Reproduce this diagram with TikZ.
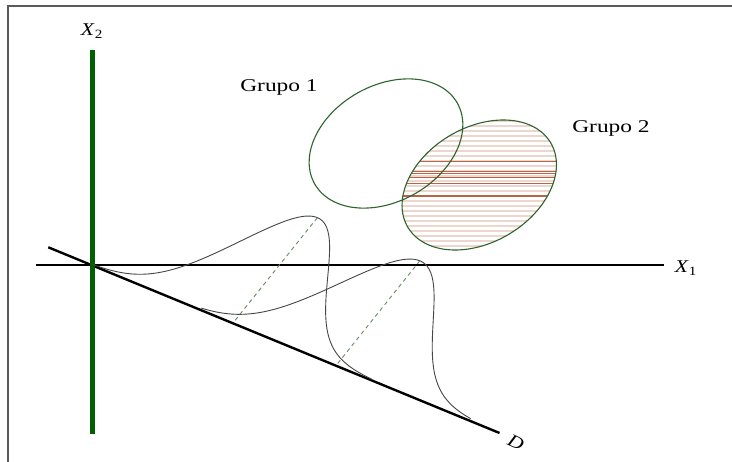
\documentclass[tikz,border=0pt]{standalone}
\usepackage{fontspec}
\setmainfont{Liberation Serif}
\begin{document}
\begin{tikzpicture}[x=1pt,y=-1pt,
  frameline/.style={draw={rgb,255:red,90;green,90;blue,90},line width=2pt},
  axisline/.style={draw=black,line width=2pt},
  greenaxis/.style={draw={rgb,255:red,0;green,95;blue,0},line width=4.5pt},
  dline/.style={draw=black,line width=2.4pt},
  density/.style={draw={rgb,255:red,70;green,70;blue,70},line width=0.9pt},
  dashline/.style={draw={rgb,255:red,100;green,140;blue,100},line width=0.9pt,dash pattern=on 4pt off 3.5pt},
  ell/.style={draw={rgb,255:red,45;green,100;blue,45},line width=1.1pt},
  lightrow/.style={draw={rgb,255:red,236;green,214;blue,205},line width=2.8pt},
  darkrow/.style={draw={rgb,255:red,185;green,100;blue,70},line width=0.9pt},
  lbl/.style={inner sep=0pt,font=\fontsize{18}{20}\selectfont}]
\useasboundingbox (0,0) rectangle (732,462);
\fill[white] (0,0) rectangle (732,462);
% frame
\coordinate (fl) at (8.3,462);
\coordinate (ftl) at (8.3,6.5);
\coordinate (ftr) at (732,6.5);
\draw[frameline] (fl) -- (ftl) -- (ftr);
% Grupo 2 hatched ellipse
\def\ellB{plot[smooth cycle,domain=0:350,samples=36,variable=\t]
  ({479.25+83*cos(\t)*cos(30.5)-57.5*sin(\t)*sin(30.5)},{185-(83*cos(\t)*sin(30.5)+57.5*sin(\t)*cos(30.5))})}
\begin{scope}
  \clip \ellB;
  \foreach \yy in {121,126,...,251} {\draw[lightrow] (395,\yy) -- (565,\yy);}
  \foreach \yy in {161.7,171.7,173.6,177.3,183.3,195,196.9} {\draw[darkrow] (395,\yy) -- (565,\yy);}
\end{scope}
\draw[ell] \ellB;
% Grupo 1 ellipse
\draw[ell] plot[smooth cycle,domain=0:350,samples=36,variable=\t]
  ({386+82*cos(\t)*cos(29.5)-58*sin(\t)*sin(29.5)},{143.5-(82*cos(\t)*sin(29.5)+58*sin(\t)*cos(29.5))});
% axes
\coordinate (x1a) at (36,265);
\coordinate (x1b) at (664,265);
\draw[axisline] (x1a) -- (x1b);
\coordinate (da) at (48.3,247.3);
\coordinate (db) at (499.5,433);
\draw[dline] (da) -- (db);
\coordinate (x2a) at (92.5,434);
\coordinate (x2b) at (92.5,50);
\draw[greenaxis] (x2a) -- (x2b);
% densities
\draw[density] plot[smooth,domain=0:302,samples=90,variable=\s]
  ({92+0.9248*\s+0.625*135*exp(0-((\s-152.4)/66.65)^2)},{265+0.3806*\s-0.781*135*exp(0-((\s-152.4)/66.65)^2)});
\draw[density] plot[smooth,domain=117:408,samples=90,variable=\s]
  ({92+0.9248*\s+0.625*134*exp(0-((\s-264)/70.71)^2)},{265+0.3806*\s-0.781*134*exp(0-((\s-264)/70.71)^2)});
\coordinate (b1) at (233,323);
\coordinate (p1) at (317.4,217.6);
\coordinate (b2) at (336.2,365.3);
\coordinate (p2) at (419.9,260.7);
\draw[dashline] (p1) -- (b1);
\draw[dashline] (p2) -- (b2);
% labels
\node[lbl] (g1) at (279,87) {\scalebox{1.3}[1]{Grupo 1}};
\node[lbl] (g2) at (611,128) {\scalebox{1.3}[1]{Grupo 2}};
\node[lbl] (lx2) at (92,31) {\scalebox{1.2}[1]{\textit{X}\textsubscript{2}}};
\node[lbl] (lx1) at (686,268) {\scalebox{1.2}[1]{\textit{X}\textsubscript{1}}};
\node[lbl,rotate=-25] (ld) at (516,442) {\scalebox{1.2}[1]{\textit{D}}};
\end{tikzpicture}
\end{document}
